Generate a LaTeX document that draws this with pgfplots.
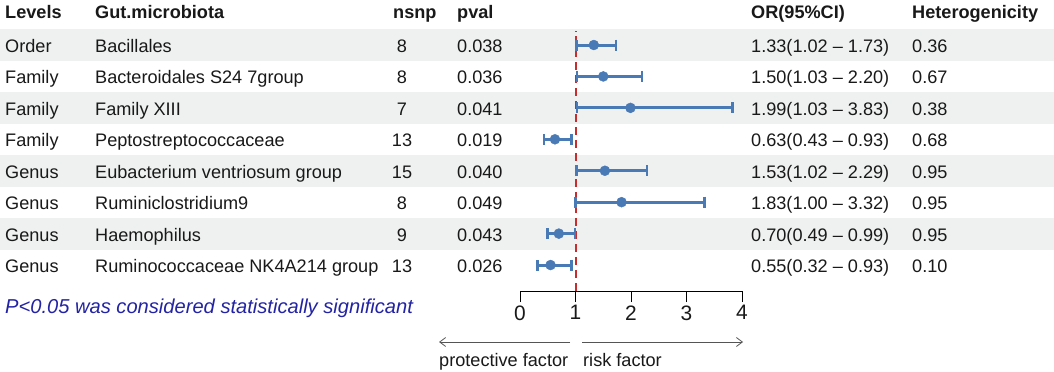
\documentclass[border=0pt]{standalone}
\usepackage{pgfplots}
\pgfplotsset{compat=1.18}
\usepackage{fontspec}
\setmainfont{Liberation Sans}
\usetikzlibrary{arrows.meta}
\definecolor{band}{RGB}{239,241,241}
\definecolor{ptc}{RGB}{74,122,182}
\definecolor{refred}{RGB}{200,45,45}
\definecolor{note}{RGB}{35,35,165}
\definecolor{txt}{RGB}{25,25,25}
\definecolor{arr}{RGB}{85,85,85}
\pgfplotstableread{
y or em ep
8 1.33 0.31 0.40
7 1.50 0.47 0.70
6 1.99 0.96 1.84
5 0.63 0.20 0.30
4 1.53 0.51 0.76
3 1.83 0.83 1.49
2 0.70 0.21 0.29
1 0.55 0.23 0.38
}\ortable
\begin{document}
\begin{tikzpicture}[x=1bp,y=1bp,font=\fontsize{18.2}{21}\selectfont,text=txt]
\path[use as bounding box, fill=white] (0,0) rectangle (1054,371);
\foreach \i in {1,3,5,7} {
  \fill[band] (0,{371-(45+(\i-1)*31.43)-16}) rectangle (1054,{371-(45+(\i-1)*31.43)+16});
}
% header
\begin{scope}[every node/.style={inner sep=0pt,font=\fontsize{18.2}{21}\selectfont\bfseries}]
\node[anchor=base west] at (5,{371-18.5}) {Levels};
\node[anchor=base west] at (95,{371-18.5}) {Gut.microbiota};
\node[anchor=base west] at (393,{371-18.5}) {nsnp};
\node[anchor=base west] at (457,{371-18.5}) {pval};
\node[anchor=base west] at (751,{371-18.5}) {OR(95\%CI)};
\node[anchor=base west] at (912,{371-18.5}) {Heterogenicity};
\end{scope}
% rows
\foreach \lev/\gut/\n/\p/\orci/\het [count=\i] in {
Order/Bacillales/8/0.038/1.33(1.02 -- 1.73)/0.36,
Family/Bacteroidales S24 7group/8/0.036/1.50(1.03 -- 2.20)/0.67,
Family/Family XIII/7/0.041/1.99(1.03 -- 3.83)/0.38,
Family/Peptostreptococcaceae/13/0.019/0.63(0.43 -- 0.93)/0.68,
Genus/Eubacterium ventriosum group/15/0.040/1.53(1.02 -- 2.29)/0.95,
Genus/Ruminiclostridium9/8/0.049/1.83(1.00 -- 3.32)/0.95,
Genus/Haemophilus/9/0.043/0.70(0.49 -- 0.99)/0.95,
Genus/Ruminococcaceae NK4A214 group/13/0.026/0.55(0.32 -- 0.93)/0.10}{
  \pgfmathsetmacro{\yb}{371-(45+(\i-1)*31.43)-7.5}
  \node[anchor=base west,inner sep=0pt] at (5,\yb) {\lev};
  \node[anchor=base west,inner sep=0pt] at (95,\yb) {\gut};
  \node[anchor=base,inner sep=0pt] at (402,\yb) {\n};
  \node[anchor=base west,inner sep=0pt] at (457,\yb) {\p};
  \node[anchor=base west,inner sep=0pt] at (751,\yb) {\orci};
  \node[anchor=base west,inner sep=0pt] at (912,\yb) {\het};
}
\node[anchor=base west,inner sep=0pt,text=note,font=\fontsize{20.2}{23}\selectfont\itshape] at (5,{371-313}) {P<0.05 was considered statistically significant};
\begin{axis}[
  at={(520bp,80bp)}, anchor=south west,
  scale only axis, width=222bp, height=261.7bp,
  xmin=0, xmax=4, ymin=0.174, ymax=8.5,
  axis x line*=bottom, axis y line=none,
  xtick={0,1,2,3,4},
  tick align=outside, major tick length=11bp,
  x axis line style={black, line width=0.8bp},
  xtick style={black, line width=0.8bp},
  xticklabel style={font=\fontsize{21}{24}\selectfont, text=txt},
  /pgf/number format/assume math mode=true,
  clip=false,
]
\addplot[refred, line width=2bp, dash pattern=on 8bp off 5bp] coordinates {(1,0.174) (1,8.45)};
\addplot[ptc, only marks, mark=*, mark size=5bp, mark options={fill=ptc, draw=ptc},
  error bars/.cd, x dir=both, x explicit,
  error bar style={line width=3bp, ptc},
  error mark options={ptc, mark size=5.5bp, line width=2.6bp, rotate=90}]
  table[x=or, y=y, x error plus=ep, x error minus=em] {\ortable};
\end{axis}
\draw[arr, line width=0.8bp, -{Straight Barb[length=6bp,width=9bp]}] (570,{371-342}) -- (439,{371-342});
\draw[arr, line width=0.8bp, -{Straight Barb[length=6bp,width=9bp]}] (582,{371-342}) -- (743,{371-342});
\node[anchor=base west,inner sep=0pt] at (439,{371-366}) {protective factor};
\node[anchor=base west,inner sep=0pt] at (583,{371-366}) {risk factor};
\end{tikzpicture}
\end{document}
